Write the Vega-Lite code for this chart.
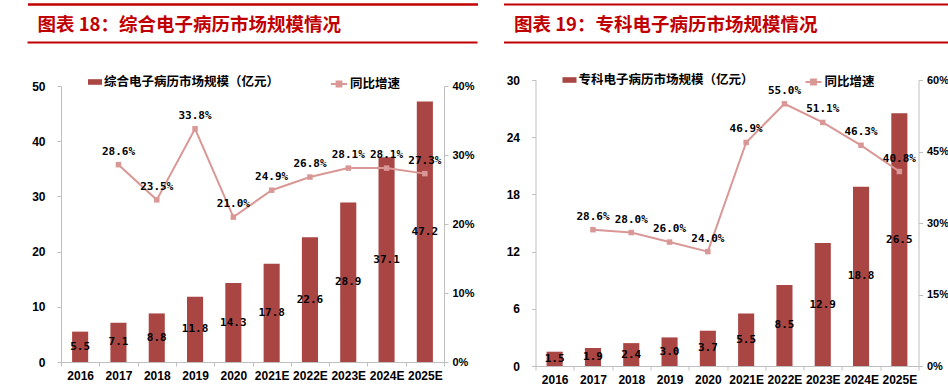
{
  "$schema": "https://vega.github.io/schema/vega-lite/v6.json",
  "padding": {"left": 24, "top": 4, "right": 0, "bottom": 0},
  "autosize": {"type": "pad"},
  "background": "#FFFFFF",
  "bounds": "flush",
  "spacing": 91.5,
  "resolve": {
    "scale": {"fill": "independent", "stroke": "independent"},
    "legend": {"fill": "independent", "stroke": "independent"}
  },
  "datasets": {
    "emr": [
      {"year": "2016", "size": 5.5, "growth": null},
      {"year": "2017", "size": 7.1, "growth": 0.286},
      {"year": "2018", "size": 8.8, "growth": 0.235},
      {"year": "2019", "size": 11.8, "growth": 0.338},
      {"year": "2020", "size": 14.3, "growth": 0.210},
      {"year": "2021E", "size": 17.8, "growth": 0.249},
      {"year": "2022E", "size": 22.6, "growth": 0.268},
      {"year": "2023E", "size": 28.9, "growth": 0.281},
      {"year": "2024E", "size": 37.1, "growth": 0.281},
      {"year": "2025E", "size": 47.2, "growth": 0.273}
    ],
    "special": [
      {"year": "2016", "size": 1.5, "growth": null},
      {"year": "2017", "size": 1.9, "growth": 0.286},
      {"year": "2018", "size": 2.4, "growth": 0.280},
      {"year": "2019", "size": 3.0, "growth": 0.260},
      {"year": "2020", "size": 3.7, "growth": 0.240},
      {"year": "2021E", "size": 5.5, "growth": 0.469},
      {"year": "2022E", "size": 8.5, "growth": 0.550},
      {"year": "2023E", "size": 12.9, "growth": 0.511},
      {"year": "2024E", "size": 18.8, "growth": 0.463},
      {"year": "2025E", "size": 26.5, "growth": 0.408}
    ]
  },
  "config": {
    "view": {"stroke": null},
    "axis": {
      "labelFont": "Liberation Sans",
      "labelFontWeight": "bold",
      "labelFontSize": 12,
      "labelColor": "#000000",
      "domainColor": "#BFBFBF",
      "tickColor": "#BFBFBF",
      "tickSize": 4,
      "grid": false
    },
    "legend": {
      "labelFont": "Noto Sans CJK SC",
      "labelFontWeight": "bold",
      "labelFontSize": 12.5,
      "labelColor": "#000000",
      "labelOffset": 2,
      "labelLimit": 400,
      "padding": 0,
      "title": null
    }
  },
  "hconcat": [
    {
      "width": 383,
      "height": 282,
      "data": {"name": "emr"},
      "layer": [
        {
          "mark": {"type": "point", "opacity": 0},
          "encoding": {
            "x": {"datum": 0, "type": "quantitative", "scale": {"domain": [0, 1], "range": [0, 450]}, "axis": {"orient": "top", "offset": 76, "position": -33.5, "domain": true, "domainColor": "#C00000", "domainWidth": 2.5, "ticks": false, "labels": false, "title": null}},
            "y": {"datum": 0, "type": "quantitative", "axis": null}
          }
        },
        {
          "mark": {"type": "point", "opacity": 0},
          "encoding": {
            "x": {"datum": 0, "type": "quantitative", "scale": {"domain": [0, 1], "range": [-34, 416]}, "axis": {"orient": "top", "offset": 38, "domain": true, "domainColor": "#C00000", "domainWidth": 2, "ticks": false, "labels": false, "title": "图表 18：综合电子病历市场规模情况", "titleColor": "#C00000", "titleFont": "Noto Sans CJK SC", "titleFontSize": 18.5, "titleFontWeight": "bold", "titleAlign": "left", "titleBaseline": "middle", "titleAngle": 0, "titleX": -24, "titleY": -18}},
            "y": {"datum": 0, "type": "quantitative", "axis": null}
          }
        },
        {
          "mark": {"type": "bar", "width": {"band": 0.42}},
          "encoding": {
            "x": {"field": "year", "type": "nominal", "sort": null, "scale": {"paddingInner": 0, "paddingOuter": 0}, "axis": {"orient": "bottom", "title": null, "labelAngle": 0, "tickBand": "extent", "labelPadding": 4}},
            "y": {"field": "size", "type": "quantitative", "scale": {"domain": [0, 50], "nice": false, "range": [282, 6]}, "axis": {"orient": "left", "title": null, "values": [0, 10, 20, 30, 40, 50], "labelPadding": 12}},
            "fill": {"datum": "综合电子病历市场规模（亿元）", "type": "nominal", "scale": {"range": ["#A94543"]}, "legend": {"orient": "none", "legendX": 27, "legendY": -5, "symbolType": "M-1,-0.4H1V0.4H-1Z", "symbolSize": 196, "symbolStrokeWidth": 0}}
          }
        },
        {
          "mark": {"type": "text", "baseline": "middle", "font": "DejaVu Sans Mono", "fontWeight": "bold", "fontSize": 11, "fill": "#000000"},
          "encoding": {
            "x": {"field": "year", "type": "nominal", "sort": null, "scale": {"paddingInner": 0, "paddingOuter": 0}, "axis": null},
            "y": {"field": "size", "type": "quantitative", "scale": {"domain": [0, 100], "nice": false, "range": [282, 6]}, "axis": null},
            "text": {"field": "size", "type": "quantitative", "format": ".1f"}
          }
        },
        {
          "transform": [{"filter": "datum.growth != null"}],
          "mark": {"type": "line", "strokeWidth": 2},
          "encoding": {
            "x": {"field": "year", "type": "nominal", "sort": null, "scale": {"domain": ["2016", "2017", "2018", "2019", "2020", "2021E", "2022E", "2023E", "2024E", "2025E"], "paddingInner": 0, "paddingOuter": 0}, "axis": null},
            "y": {"field": "growth", "type": "quantitative", "scale": {"domain": [0, 0.4], "nice": false, "range": [282, 6]}, "axis": {"orient": "right", "title": null, "values": [0, 0.1, 0.2, 0.3, 0.4], "format": ".0%", "labelPadding": 4, "labelFontSize": 11}},
            "stroke": {"datum": "同比增速", "type": "nominal", "scale": {"range": ["#D99795"]}, "legend": {"orient": "none", "legendX": 269, "legendY": -5, "symbolType": "M-1,0H1M-0.3,-0.3H0.3V0.3H-0.3Z", "symbolSize": 256, "symbolStrokeWidth": 2, "symbolFillColor": "#D99795"}}
          }
        },
        {
          "transform": [{"filter": "datum.growth != null"}],
          "mark": {"type": "point", "shape": "square", "filled": true, "size": 30, "fill": "#D99795", "opacity": 1},
          "encoding": {
            "x": {"field": "year", "type": "nominal", "sort": null, "scale": {"domain": ["2016", "2017", "2018", "2019", "2020", "2021E", "2022E", "2023E", "2024E", "2025E"], "paddingInner": 0, "paddingOuter": 0}, "axis": null},
            "y": {"field": "growth", "type": "quantitative", "scale": {"domain": [0, 0.4], "nice": false, "range": [282, 6]}, "axis": null}
          }
        },
        {
          "transform": [{"filter": "datum.growth != null"}],
          "mark": {"type": "text", "baseline": "middle", "dy": -13, "font": "DejaVu Sans Mono", "fontWeight": "bold", "fontSize": 11, "fill": "#000000"},
          "encoding": {
            "x": {"field": "year", "type": "nominal", "sort": null, "scale": {"domain": ["2016", "2017", "2018", "2019", "2020", "2021E", "2022E", "2023E", "2024E", "2025E"], "paddingInner": 0, "paddingOuter": 0}, "axis": null},
            "y": {"field": "growth", "type": "quantitative", "scale": {"domain": [0, 0.4], "nice": false, "range": [282, 6]}, "axis": null},
            "text": {"field": "growth", "type": "quantitative", "format": ".1%"}
          }
        }
      ],
      "resolve": {"scale": {"x": "independent", "y": "independent"}, "axis": {"x": "independent", "y": "independent"}}
    },
    {
      "width": 383,
      "height": 286,
      "data": {"name": "special"},
      "layer": [
        {
          "mark": {"type": "point", "opacity": 0},
          "encoding": {
            "x": {"datum": 0, "type": "quantitative", "scale": {"domain": [0, 1], "range": [-32, 415]}, "axis": {"orient": "top", "offset": 76, "domain": true, "domainColor": "#C00000", "domainWidth": 2, "ticks": false, "labels": false, "title": null}},
            "y": {"datum": 0, "type": "quantitative", "axis": null}
          }
        },
        {
          "mark": {"type": "point", "opacity": 0},
          "encoding": {
            "x": {"datum": 0, "type": "quantitative", "scale": {"domain": [0, 1], "range": [-32, 415]}, "axis": {"orient": "top", "offset": 38, "domain": true, "domainColor": "#C00000", "domainWidth": 2, "ticks": false, "labels": false, "title": "图表 19：专科电子病历市场规模情况", "titleColor": "#C00000", "titleFont": "Noto Sans CJK SC", "titleFontSize": 18.5, "titleFontWeight": "bold", "titleAlign": "left", "titleBaseline": "middle", "titleAngle": 0, "titleX": -22, "titleY": -18}},
            "y": {"datum": 0, "type": "quantitative", "axis": null}
          }
        },
        {
          "mark": {"type": "bar", "width": {"band": 0.42}},
          "encoding": {
            "x": {"field": "year", "type": "nominal", "sort": null, "scale": {"paddingInner": 0, "paddingOuter": 0}, "axis": {"orient": "bottom", "title": null, "labelAngle": 0, "tickBand": "extent", "labelPadding": 4}},
            "y": {"field": "size", "type": "quantitative", "scale": {"domain": [0, 30], "nice": false}, "axis": {"orient": "left", "title": null, "values": [0, 6, 12, 18, 24, 30], "labelPadding": 12}},
            "fill": {"datum": "专科电子病历市场规模（亿元）", "type": "nominal", "scale": {"range": ["#A94543"]}, "legend": {"orient": "none", "legendX": 27, "legendY": -7, "symbolType": "M-1,-0.4H1V0.4H-1Z", "symbolSize": 196, "symbolStrokeWidth": 0}}
          }
        },
        {
          "mark": {"type": "text", "baseline": "middle", "font": "DejaVu Sans Mono", "fontWeight": "bold", "fontSize": 11, "fill": "#000000"},
          "encoding": {
            "x": {"field": "year", "type": "nominal", "sort": null, "scale": {"paddingInner": 0, "paddingOuter": 0}, "axis": null},
            "y": {"field": "size", "type": "quantitative", "scale": {"domain": [0, 60], "nice": false}, "axis": null},
            "text": {"field": "size", "type": "quantitative", "format": ".1f"}
          }
        },
        {
          "transform": [{"filter": "datum.growth != null"}],
          "mark": {"type": "line", "strokeWidth": 2},
          "encoding": {
            "x": {"field": "year", "type": "nominal", "sort": null, "scale": {"domain": ["2016", "2017", "2018", "2019", "2020", "2021E", "2022E", "2023E", "2024E", "2025E"], "paddingInner": 0, "paddingOuter": 0}, "axis": null},
            "y": {"field": "growth", "type": "quantitative", "scale": {"domain": [0, 0.6], "nice": false}, "axis": {"orient": "right", "title": null, "values": [0, 0.15, 0.3, 0.45, 0.6], "format": ".0%", "labelPadding": 4, "labelFontSize": 11}},
            "stroke": {"datum": "同比增速", "type": "nominal", "scale": {"range": ["#D99795"]}, "legend": {"orient": "none", "legendX": 269, "legendY": -7, "symbolType": "M-1,0H1M-0.3,-0.3H0.3V0.3H-0.3Z", "symbolSize": 256, "symbolStrokeWidth": 2, "symbolFillColor": "#D99795"}}
          }
        },
        {
          "transform": [{"filter": "datum.growth != null"}],
          "mark": {"type": "point", "shape": "square", "filled": true, "size": 30, "fill": "#D99795", "opacity": 1},
          "encoding": {
            "x": {"field": "year", "type": "nominal", "sort": null, "scale": {"domain": ["2016", "2017", "2018", "2019", "2020", "2021E", "2022E", "2023E", "2024E", "2025E"], "paddingInner": 0, "paddingOuter": 0}, "axis": null},
            "y": {"field": "growth", "type": "quantitative", "scale": {"domain": [0, 0.6], "nice": false}, "axis": null}
          }
        },
        {
          "transform": [{"filter": "datum.growth != null"}],
          "mark": {"type": "text", "baseline": "middle", "dy": -13, "font": "DejaVu Sans Mono", "fontWeight": "bold", "fontSize": 11, "fill": "#000000"},
          "encoding": {
            "x": {"field": "year", "type": "nominal", "sort": null, "scale": {"domain": ["2016", "2017", "2018", "2019", "2020", "2021E", "2022E", "2023E", "2024E", "2025E"], "paddingInner": 0, "paddingOuter": 0}, "axis": null},
            "y": {"field": "growth", "type": "quantitative", "scale": {"domain": [0, 0.6], "nice": false}, "axis": null},
            "text": {"field": "growth", "type": "quantitative", "format": ".1%"}
          }
        }
      ],
      "resolve": {"scale": {"x": "independent", "y": "independent"}, "axis": {"x": "independent", "y": "independent"}}
    }
  ]
}
